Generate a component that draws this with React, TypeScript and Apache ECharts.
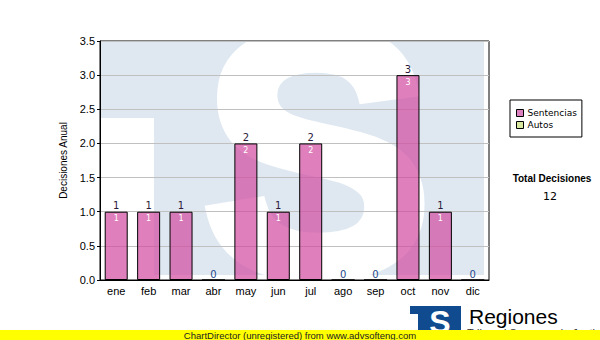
import React, { useEffect, useRef } from "react";
import * as echarts from "echarts";

const months = ["ene", "feb", "mar", "abr", "may", "jun", "jul", "ago", "sep", "oct", "nov", "dic"];
const sentencias = [1, 1, 1, 0, 2, 1, 2, 0, 0, 3, 1, 0];
const autos = [0, 0, 0, 0, 0, 0, 0, 0, 0, 0, 0, 0];
const seriesNames = ["Sentencias", "Autos"];
const yMin = 0;
const yMax = 3.5;
const yInterval = 0.5;
const yAxisTitle = "Decisiones Anual";
const totalTitle = "Total Decisiones";
const totalValue = "12";
const footer = "ChartDirector (unregistered) from www.advsofteng.com";

const AX_FONT = "Liberation Sans, Arial, sans-serif";
const LB_FONT = "DejaVu Sans, Verdana, sans-serif";

export default function App() {
  const ref = useRef<HTMLDivElement>(null);
  useEffect(() => {
    if (!ref.current) return;
    const chart = echarts.init(ref.current, null, { renderer: "svg" });
    const wm = "#dfe8f1";
    chart.setOption({
      animation: false,
      backgroundColor: "#ffffff",
      grid: {
        left: 100,
        right: 111,
        top: 41,
        bottom: 60,
        show: true,
        borderColor: "#000",
        borderWidth: 1,
        backgroundColor: "transparent",
      },
      legend: {
        orient: "vertical",
        left: 510,
        top: 100,
        padding: [7, 5, 6, 6],
        itemGap: 0,
        itemWidth: 7,
        itemHeight: 7,
        borderColor: "#000",
        borderWidth: 1,
        backgroundColor: "#fff",
        icon: "rect",
        textStyle: { fontFamily: LB_FONT, fontSize: 9, color: "#000", lineHeight: 12, padding: [0, 0, 0, -1] },
        data: [
          { name: seriesNames[0], itemStyle: { color: "#dd80bf", borderColor: "#000", borderWidth: 1, opacity: 1 } },
          { name: seriesNames[1], itemStyle: { color: "#d8e8a0", borderColor: "#000", borderWidth: 1, opacity: 1 } },
        ],
      },
      xAxis: {
        type: "category",
        data: months,
        axisLine: { lineStyle: { color: "#000", width: 1 } },
        axisTick: { alignWithLabel: true, length: 3, lineStyle: { color: "#000" } },
        axisLabel: { fontFamily: AX_FONT, fontSize: 11, color: "#000", margin: 5 },
        splitLine: { show: false },
      },
      yAxis: {
        type: "value",
        min: yMin,
        max: yMax,
        interval: yInterval,
        name: yAxisTitle,
        nameLocation: "middle",
        nameGap: 20,
        nameTextStyle: { fontFamily: AX_FONT, fontSize: 10, color: "#000" },
        axisLine: { show: true, lineStyle: { color: "#000", width: 1 } },
        axisTick: { show: true, length: 3, lineStyle: { color: "#000" } },
        axisLabel: {
          fontFamily: AX_FONT,
          fontSize: 11,
          color: "#000",
          margin: 5,
          formatter: (v: number) => v.toFixed(1),
        },
        splitLine: { show: true, lineStyle: { color: "#c0c0c0", width: 1 } },
      },
      graphic: [
        // watermark
        { type: "rect", z: -10, silent: true, shape: { x: 101, y: 41, width: 383, height: 234 }, style: { fill: wm } },
        { type: "rect", z: -9, silent: true, shape: { x: 101, y: 118, width: 53, height: 162 }, style: { fill: "#fff" } },
        {
          type: "text",
          z: -8,
          silent: true,
          x: 317,
          y: 153,
          style: {
            text: "S",
            fill: "#fff",
            stroke: "#fff",
            lineWidth: 12,
            lineJoin: "round",
            font: "bold 345px 'Liberation Sans', Arial, sans-serif",
            align: "center",
            verticalAlign: "middle",
          },
        },
        { type: "rect", z: -7, silent: true, shape: { x: 0, y: 0, width: 600, height: 40 }, style: { fill: "#fff" } },
        // right side totals
        {
          type: "text",
          x: 552,
          y: 178,
          style: { text: totalTitle, font: "bold 10px 'Liberation Sans', Arial", fill: "#000", align: "center", verticalAlign: "middle" },
        },
        {
          type: "text",
          x: 550,
          y: 196,
          style: { text: totalValue, font: "11px 'DejaVu Sans'", fill: "#000", align: "center", verticalAlign: "middle" },
        },
        // logo
        { type: "rect", shape: { x: 410, y: 306, width: 51, height: 26 }, style: { fill: "#0f4b8e" } },
        { type: "rect", shape: { x: 410, y: 314, width: 8, height: 18 }, style: { fill: "#fff" } },
        {
          type: "text",
          x: 440,
          y: 322,
          style: { text: "S", fill: "#fff", font: "bold 32px 'Liberation Sans', Arial", align: "center", verticalAlign: "middle" },
        },
        {
          type: "text",
          x: 469,
          y: 316,
          style: { text: "Regiones", fill: "#000", font: "21px 'Liberation Sans', Arial", align: "left", verticalAlign: "middle" },
        },
        {
          type: "text",
          x: 467,
          y: 327,
          style: { text: "Tribunal Supremo de Justicia", fill: "#333", font: "11px 'Liberation Sans', Arial", align: "left", verticalAlign: "top" },
        },
        { type: "rect", shape: { x: 0, y: 330, width: 600, height: 10 }, style: { fill: "#ffff00" } },
        {
          type: "text",
          x: 300,
          y: 335,
          style: { text: footer, fill: "#222", font: "9.5px 'Liberation Sans', Arial", align: "center", verticalAlign: "middle" },
        },
      ],
      series: [
        {
          name: seriesNames[0],
          type: "bar",
          stack: "tot",
          data: sentencias,
          barWidth: 23,
          itemStyle: { color: "rgba(209,74,160,0.7)", borderColor: "#000", borderWidth: 1 },
          label: {
            show: true,
            position: "insideTop",
            distance: 3,
            color: "#fff",
            fontFamily: LB_FONT,
            fontSize: 8,
            formatter: (p: any) => (p.value ? String(p.value) : ""),
          },
        },
        {
          name: seriesNames[1],
          type: "bar",
          stack: "tot",
          data: autos,
          barWidth: 23,
          itemStyle: { color: "#d8e8a0", borderWidth: 0 },
          label: {
            show: true,
            position: "top",
            distance: 1,
            fontFamily: LB_FONT,
            fontSize: 10,
            formatter: (p: any) => {
              const t = sentencias[p.dataIndex] + autos[p.dataIndex];
              return t === 0 ? "{z|0}" : "{n|" + t + "}";
            },
            rich: {
              z: { color: "#1f4a8a", fontFamily: LB_FONT, fontSize: 10 },
              n: { color: "#2a1a3a", fontFamily: LB_FONT, fontSize: 10 },
            },
          },
        },
      ],
    });
    return () => chart.dispose();
  }, []);
  return <div ref={ref} style={{ position: "fixed", left: 0, top: 0, width: 600, height: 340 }} />;
}
